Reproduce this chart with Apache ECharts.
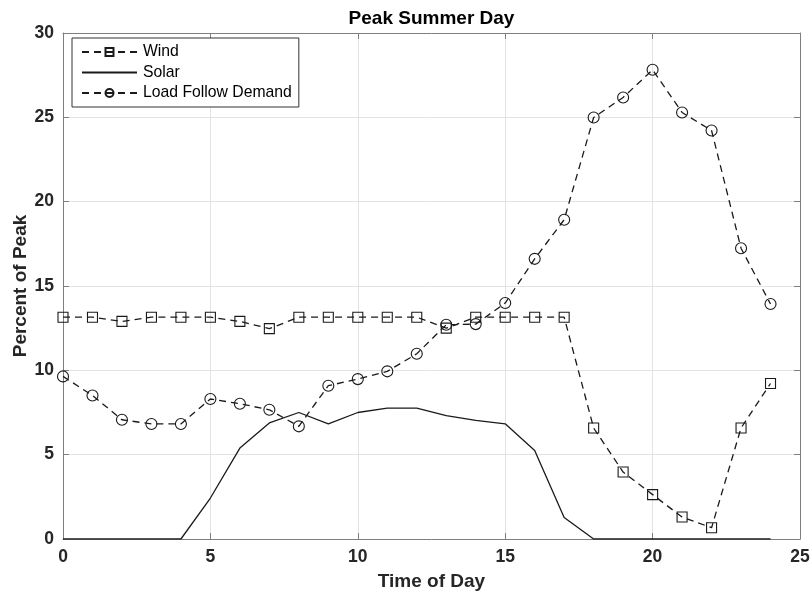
<!DOCTYPE html>
<html>
<head>
<meta charset="utf-8">
<title>Peak Summer Day</title>
<script src="https://cdn.jsdelivr.net/npm/echarts@6/dist/echarts.min.js"></script>
<style>
  html, body { margin: 0; padding: 0; background: #fff; }
  #chart { width: 812px; height: 599px; }
</style>
</head>
<body>
<div id="chart"></div>
<script>
// Hour of the day (0..24)
var hours = [0, 1, 2, 3, 4, 5, 6, 7, 8, 9, 10, 11, 12, 13, 14, 15, 16, 17, 18, 19, 20, 21, 22, 23, 24];

// Generation / demand profiles, percent of peak
var wind = [13.15, 13.15, 12.9, 13.15, 13.15, 13.15, 12.9, 12.47, 13.15, 13.15, 13.15, 13.15, 13.15,
            12.5, 13.15, 13.15, 13.15, 13.15, 6.58, 3.97, 2.63, 1.3, 0.67, 6.58, 9.22];
var solar = [0, 0, 0, 0, 0, 2.43, 5.39, 6.88, 7.5, 6.83, 7.5, 7.76, 7.76,
             7.31, 7.03, 6.83, 5.25, 1.28, 0, 0, 0, 0, 0, 0, 0];
var loadFollow = [9.64, 8.51, 7.07, 6.82, 6.82, 8.3, 8.02, 7.66, 6.68, 9.09, 9.48, 9.94, 10.98,
                  12.7, 12.74, 13.99, 16.61, 18.93, 24.99, 26.18, 27.82, 25.29, 24.22, 17.24, 13.93];

var xTicks = { min: 0, max: 25, interval: 5 };
var yTicks = { min: 0, max: 30, interval: 5 };

function pairs(values) {
  return hours.map(function (h, i) { return [h, values[i]]; });
}

var FONT = "'Liberation Sans', Arial, Helvetica, sans-serif";
var INK = '#1a1a1a';
var BOX = '#7f7f7f';
var GRID = '#e3e3e3';
var DASH = [7, 5];

var chart = echarts.init(document.getElementById('chart'), null, { renderer: 'canvas' });

function axisCommon(range) {
  return {
    type: 'value',
    min: range.min,
    max: range.max,
    interval: range.interval,
    axisLine: { show: true, onZero: false, lineStyle: { color: BOX, width: 1 } },
    axisTick: { show: true, inside: true, length: 6, lineStyle: { color: BOX, width: 1 } }
  };
}

var xMain = Object.assign(axisCommon(xTicks), {
  position: 'bottom',
  name: 'Time of Day',
  nameLocation: 'middle',
  nameGap: 33,
  nameMoveOverlap: false,
  nameTextStyle: { fontFamily: FONT, fontSize: 19, fontWeight: 'bold', color: '#262626' },
  axisLabel: { margin: 9, fontFamily: FONT, fontSize: 17.5, fontWeight: 'bold', color: '#262626' },
  splitLine: { show: true, lineStyle: { color: GRID, width: 1 } }
});
var xTop = Object.assign(axisCommon(xTicks), {
  position: 'top',
  axisLabel: { show: false },
  splitLine: { show: false }
});
var yMain = Object.assign(axisCommon(yTicks), {
  position: 'left',
  name: 'Percent of Peak',
  nameLocation: 'middle',
  nameGap: 33,
  nameMoveOverlap: false,
  nameTextStyle: { fontFamily: FONT, fontSize: 19, fontWeight: 'bold', color: '#262626' },
  axisLabel: { margin: 9, fontFamily: FONT, fontSize: 17.5, fontWeight: 'bold', color: '#262626' },
  splitLine: { show: true, lineStyle: { color: GRID, width: 1 } }
});
var yRight = Object.assign(axisCommon(yTicks), {
  position: 'right',
  axisLabel: { show: false },
  splitLine: { show: false }
});

var markerStyle = { color: 'transparent', borderColor: INK, borderWidth: 1.1 };

chart.setOption({
  backgroundColor: '#fff',
  animation: false,
  title: {
    text: 'Peak Summer Day',
    left: 426.5,
    textAlign: 'center',
    top: 4,
    textStyle: { fontFamily: FONT, fontSize: 19, fontWeight: 'bold', color: '#000' }
  },
  grid: { left: 63, right: 12, top: 33, bottom: 60, containLabel: false, outerBoundsMode: 'none' },
  legend: {
    orient: 'vertical',
    left: 72,
    top: 38,
    padding: [6, 7, 6, 9],
    itemGap: 4.5,
    itemWidth: 55,
    itemHeight: 10,
    backgroundColor: '#fff',
    borderColor: '#333',
    borderWidth: 1,
    borderRadius: 0,
    textStyle: { fontFamily: FONT, fontSize: 15.75, color: '#000', lineHeight: 16, padding: [0, 0, 0, 1] },
    data: ['Wind', 'Solar', 'Load Follow Demand']
  },
  xAxis: [xMain, xTop],
  yAxis: [yMain, yRight],
  series: [
    {
      name: 'Wind',
      type: 'line',
      data: pairs(wind),
      symbol: 'rect',
      symbolSize: 10,
      itemStyle: markerStyle,
      lineStyle: { color: INK, width: 1.3, type: DASH },
      emphasis: { disabled: true },
      z: 3
    },
    {
      name: 'Solar',
      type: 'line',
      data: pairs(solar),
      symbol: 'none',
      itemStyle: { color: 'transparent', borderColor: 'transparent' },
      lineStyle: { color: INK, width: 1.3, type: 'solid' },
      emphasis: { disabled: true },
      z: 2
    },
    {
      name: 'Load Follow Demand',
      type: 'line',
      data: pairs(loadFollow),
      symbol: 'circle',
      symbolSize: 11,
      itemStyle: markerStyle,
      lineStyle: { color: INK, width: 1.3, type: DASH },
      emphasis: { disabled: true },
      z: 4
    }
  ]
});
</script>
</body>
</html>
